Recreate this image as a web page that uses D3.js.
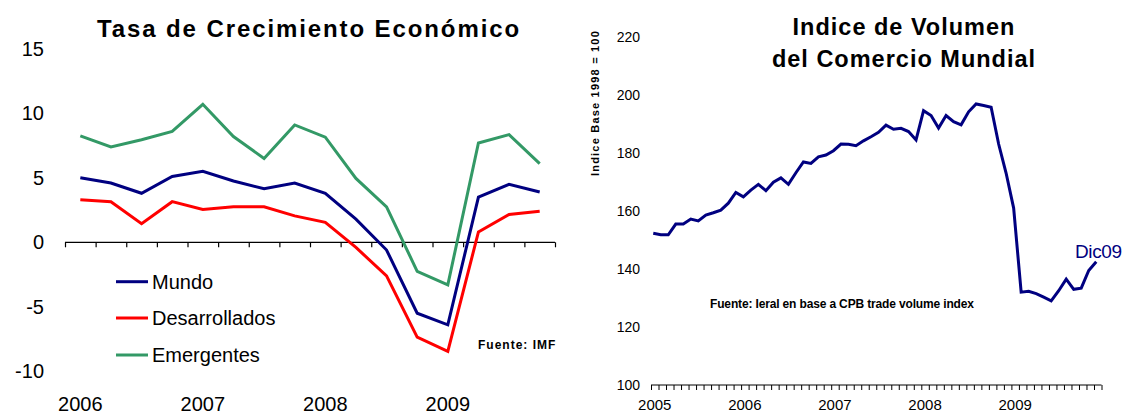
<!DOCTYPE html>
<html>
<head>
<meta charset="utf-8">
<script src="https://cdn.jsdelivr.net/npm/d3@7"></script>
<style>
  html, body { margin: 0; padding: 0; background: #fff; }
  svg { display: block; font-family: "Liberation Sans", Arial, sans-serif; }
</style>
</head>
<body>
<svg id="chart" width="1123" height="415"></svg>
<script>
// ---------- Left chart data ----------
const quarters = ["2006Q1","2006Q2","2006Q3","2006Q4","2007Q1","2007Q2","2007Q3","2007Q4",
                  "2008Q1","2008Q2","2008Q3","2008Q4","2009Q1","2009Q2","2009Q3","2009Q4"];
const yearLabelsLeft = ["2006","2007","2008","2009"];
const leftYTicks = [15, 10, 5, 0, -5, -10];
const mundo = [5.0, 4.6, 3.8, 5.1, 5.5, 4.75, 4.15, 4.6, 3.8, 1.8, -0.6, -5.5, -6.4, 3.5, 4.5, 3.9];
const desarrollados = [3.3, 3.15, 1.45, 3.15, 2.55, 2.75, 2.75, 2.05, 1.55, -0.4, -2.6, -7.35, -8.45, 0.8, 2.15, 2.4];
const emergentes = [8.25, 7.4, 7.95, 8.6, 10.7, 8.2, 6.5, 9.1, 8.15, 4.95, 2.75, -2.25, -3.3, 7.7, 8.35, 6.1];
const seriesNames = ["Mundo", "Desarrollados", "Emergentes"];
const seriesColors = ["#000080", "#FF0000", "#339966"];

// ---------- Right chart data ----------
const months = d3.range(60); // Jan 2005 .. Dec 2009
const yearLabelsRight = ["2005","2006","2007","2008","2009"];
const rightYTicks = [220, 200, 180, 160, 140, 120, 100];
const tradeIndex = [
  152.3, 151.8, 151.8, 155.5, 155.5, 157.2, 156.6, 158.6, 159.4, 160.3, 162.7, 166.4,
  164.9, 167.2, 169.2, 167.0, 169.9, 171.4, 169.2, 173.2, 176.9, 176.4, 178.7, 179.3,
  180.8, 183.1, 183.0, 182.5, 184.2, 185.6, 187.1, 189.6, 188.2, 188.5, 187.4, 184.5,
  194.6, 192.9, 188.6, 192.9, 190.8, 189.7, 194.2, 196.9, 196.4, 195.8, 183.1, 173.0,
  161.0, 132.0, 132.3, 131.5, 130.3, 129.0, 132.5, 136.5, 133.0, 133.4, 139.5, 142.5
];

const svg = d3.select("#chart");

// ================= LEFT CHART =================
const xL = d3.scaleLinear().domain([0, 16]).range([65, 555]);
const yL = d3.scaleLinear().domain([-10, 15]).range([371.3, 48.8]);

svg.append("text")
  .attr("x", 309).attr("y", 37)
  .attr("text-anchor", "middle")
  .attr("font-size", 24).attr("font-weight", "bold")
  .attr("letter-spacing", 1.9)
  .text("Tasa de Crecimiento Económico");

// y tick labels (no axis line)
svg.append("g").selectAll("text").data(leftYTicks).join("text")
  .attr("x", 44).attr("y", d => yL(d))
  .attr("dy", "0.35em")
  .attr("text-anchor", "end")
  .attr("font-size", 20)
  .text(d => d);

// zero axis with quarter ticks
const zeroAxis = d3.axisBottom(xL).tickValues(d3.range(0, 17)).tickSize(5).tickFormat("");
const gz = svg.append("g").attr("transform", `translate(0,${yL(0)})`).call(zeroAxis);
gz.select(".domain").attr("stroke", "#000").attr("stroke-width", 1.2).attr("d", `M${xL(0)},0H${xL(16)}`);
gz.selectAll(".tick line").attr("stroke", "#000").attr("stroke-width", 1.2);

// year labels
svg.append("g").selectAll("text").data(yearLabelsLeft).join("text")
  .attr("x", (d, i) => xL(i * 4 + 0.5))
  .attr("y", 411)
  .attr("text-anchor", "middle")
  .attr("font-size", 20)
  .text(d => d);

const lineL = d3.line().x((d, i) => xL(i + 0.5)).y(d => yL(d));
[emergentes, mundo, desarrollados].forEach((s, k) => {
  const color = [seriesColors[2], seriesColors[0], seriesColors[1]][k];
  svg.append("path").datum(s)
    .attr("d", lineL)
    .attr("fill", "none")
    .attr("stroke", color)
    .attr("stroke-width", 3)
    .attr("stroke-linejoin", "miter");
});

// legend
const legendY = [281.7, 318, 355];
const lg = svg.append("g");
seriesNames.forEach((n, i) => {
  lg.append("line")
    .attr("x1", 116).attr("x2", 148)
    .attr("y1", legendY[i]).attr("y2", legendY[i])
    .attr("stroke", seriesColors[i]).attr("stroke-width", 3);
  lg.append("text")
    .attr("x", 152).attr("y", legendY[i]).attr("dy", "0.35em")
    .attr("font-size", 20)
    .text(n);
});

svg.append("text")
  .attr("x", 478).attr("y", 349)
  .attr("font-size", 12).attr("font-weight", "bold")
  .attr("letter-spacing", 1)
  .text("Fuente: IMF");

// ================= RIGHT CHART =================
const xR = d3.scaleLinear().domain([0, 60]).range([651, 1101.5]);
const yR = d3.scaleLinear().domain([100, 220]).range([385, 37]);

svg.append("text")
  .attr("x", 904).attr("y", 35)
  .attr("text-anchor", "middle")
  .attr("font-size", 23.5).attr("font-weight", "bold")
  .attr("letter-spacing", 1)
  .text("Indice de Volumen");
svg.append("text")
  .attr("x", 904).attr("y", 67)
  .attr("text-anchor", "middle")
  .attr("font-size", 23.5).attr("font-weight", "bold")
  .attr("letter-spacing", 1)
  .text("del Comercio Mundial");

svg.append("text")
  .attr("transform", "translate(599,103) rotate(-90)")
  .attr("text-anchor", "middle")
  .attr("font-size", 11).attr("font-weight", "bold")
  .attr("letter-spacing", 1.2)
  .text("Indice Base 1998 = 100");

svg.append("g").selectAll("text").data(rightYTicks).join("text")
  .attr("x", 640).attr("y", d => yR(d))
  .attr("dy", "0.35em")
  .attr("text-anchor", "end")
  .attr("font-size", 14)
  .text(d => d);

const bottomAxis = d3.axisBottom(xR).tickValues(d3.range(0, 61)).tickSize(5).tickFormat("");
const gb = svg.append("g").attr("transform", `translate(0,${yR(100)})`).call(bottomAxis);
gb.select(".domain").attr("stroke", "#000").attr("stroke-width", 1).attr("d", `M${xR(0)},0H${xR(60)}`);
gb.selectAll(".tick line").attr("stroke", "#000").attr("stroke-width", 1);

svg.append("g").selectAll("text").data(yearLabelsRight).join("text")
  .attr("x", (d, i) => xR(i * 12 + 0.5))
  .attr("y", 410)
  .attr("text-anchor", "middle")
  .attr("font-size", 15)
  .text(d => d);

const lineR = d3.line().x((d, i) => xR(i + 0.3)).y(d => yR(d));
svg.append("path").datum(tradeIndex)
  .attr("d", lineR)
  .attr("fill", "none")
  .attr("stroke", "#000080")
  .attr("stroke-width", 3);

svg.append("text")
  .attr("x", 1075).attr("y", 258)
  .attr("font-size", 19)
  .attr("fill", "#000080")
  .attr("letter-spacing", -0.4)
  .text("Dic09");

svg.append("text")
  .attr("x", 710).attr("y", 308)
  .attr("font-size", 12).attr("font-weight", "bold")
  .attr("letter-spacing", -0.15)
  .text("Fuente: Ieral en base a CPB trade volume index");
</script>
</body>
</html>
